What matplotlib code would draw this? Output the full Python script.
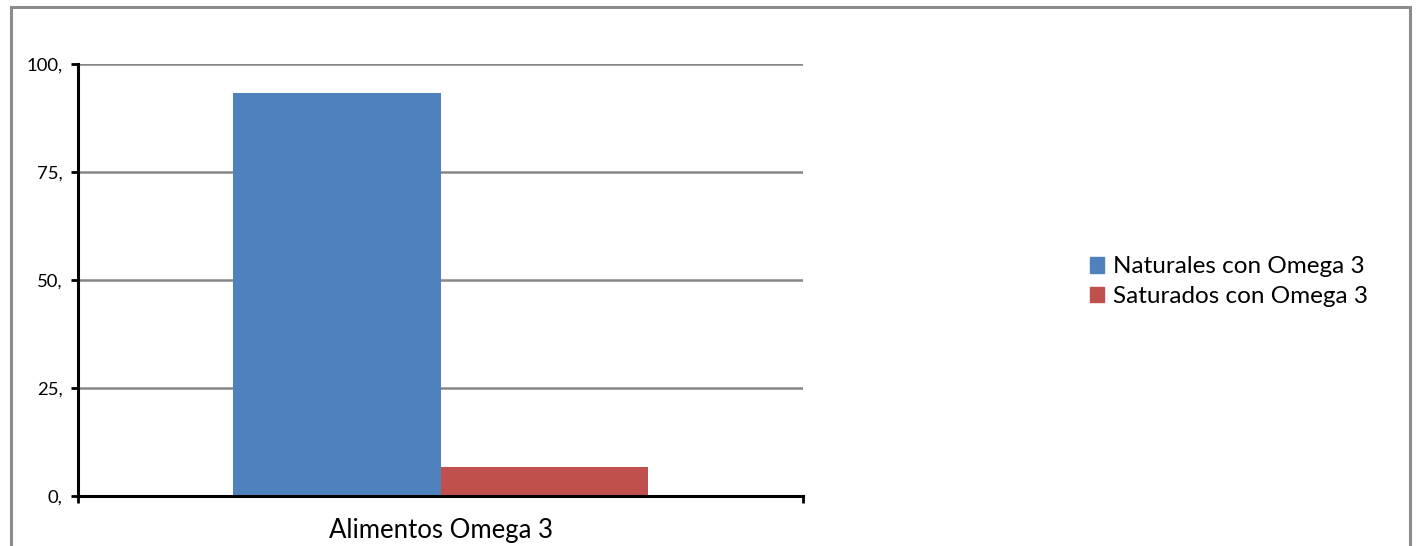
import matplotlib
matplotlib.use("Agg")
import matplotlib.pyplot as plt
from matplotlib.patches import Rectangle

plt.rcParams["font.family"] = ["Lato", "DejaVu Sans"]

category = "Alimentos Omega 3"
series_names = ["Naturales con Omega 3", "Saturados con Omega 3"]
series_values = [93.3, 6.7]
series_colors = ["#4F81BD", "#C0504D"]
y_ticks = [0, 25, 50, 75, 100]
y_tick_labels = ["0,", "25,", "50,", "75,", "100,"]

fig = plt.figure(figsize=(14.16, 5.46), dpi=100)
ax = fig.add_axes([0.0551, 0.0916, 0.5120, 0.7912])

bar_w = 0.2857
offsets = [-bar_w / 2, bar_w / 2]
for name, val, col, off in zip(series_names, series_values, series_colors, offsets):
    ax.bar(off, val, width=bar_w, color=col, label=name, zorder=3)

ax.set_xlim(-0.5, 0.5)
ax.set_ylim(0, 100)
ax.set_yticks(y_ticks)
ax.set_yticklabels(y_tick_labels, fontsize=13.3)
ax.yaxis.grid(True, color="#868686", linewidth=1.8, zorder=0)
ax.set_xticks([-0.5, 0.5])
ax.set_xticklabels(["", ""])
ax.tick_params(axis="both", direction="out", length=5, width=2, color="black")
ax.tick_params(axis="y", pad=6)
ax.set_xlabel(category, fontsize=18.5, labelpad=7)

for side in ("top", "right"):
    ax.spines[side].set_visible(False)
for side in ("left", "bottom"):
    ax.spines[side].set_linewidth(2.2)
    ax.spines[side].set_zorder(4)

handles = [Rectangle((0, 0), 1, 1, color=c) for c in series_colors]
fig.legend(handles, series_names, loc="center left", bbox_to_anchor=(0.7695, 0.484),
           frameon=False, fontsize=17.5, handlelength=0.6, handleheight=0.6,
           handletextpad=0.35, labelspacing=0.35, borderaxespad=0, borderpad=0)

# gray chart-area border
fig.patches.append(Rectangle((11 / 1416, -0.1), 1399 / 1416, 1.1 - 7 / 546,
                             transform=fig.transFigure, fill=False,
                             edgecolor="#8c8c8c", linewidth=2.2))

fig.savefig("out.png", dpi=100)
